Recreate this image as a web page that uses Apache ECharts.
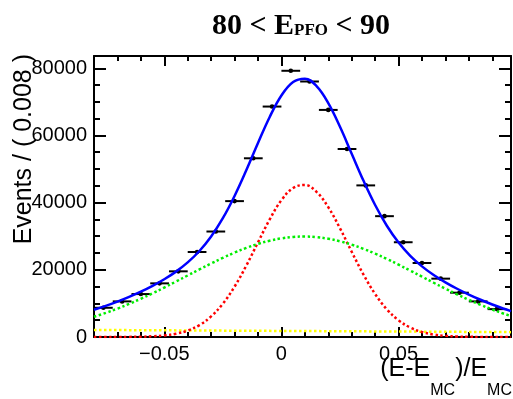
<!DOCTYPE html>
<html><head><meta charset="utf-8">
<script src="https://cdn.jsdelivr.net/npm/echarts@6/dist/echarts.min.js"></script>
<style>html,body{margin:0;padding:0;background:#fff}#c{width:513px;height:399px}</style>
</head><body><div id="c"></div>
<script>
// ---- data ----
const binWidth = 0.008;
const binCenters = [-0.076,-0.068,-0.060,-0.052,-0.044,-0.036,-0.028,-0.020,-0.012,-0.004,0.004,0.012,0.020,0.028,0.036,0.044,0.052,0.060,0.068,0.076,0.084,0.092];
const binCounts  = [8700,10600,12780,15970,19550,25310,31400,40450,53200,68600,79250,76060,67600,55970,45130,35970,28210,22030,17370,13190,10600,8300];

const curveX = [-0.080,-0.075,-0.070,-0.065,-0.060,-0.055,-0.050,-0.045,-0.040,-0.035,-0.030,-0.025,-0.020,-0.015,-0.010,-0.005,0.000,0.005,0.010,0.015,0.020,0.025,0.030,0.035,0.040,0.045,0.050,0.055,0.060,0.065,0.070,0.075,0.080,0.085,0.090,0.095,0.098];
const totalFit  = [8126,9256,10522,11934,13494,15229,17185,19460,22199,25610,29935,35373,41996,49622,57736,65502,71898,75928,76912,74680,69624,62568,54551,46558,39285,33122,28127,24175,21026,18450,16274,14359,12639,11083,9668,8395,7697];
const narrowFit = [1,4,12,34,87,207,466,980,1928,3551,6131,9907,14990,21241,28181,35008,40725,44358,45241,43207,38641,32353,25363,18623,12797,8240,4965,2804,1482,733,340,147,60,23,8,3,1];
const broadFit  = [6025,7170,8447,9855,11380,13013,14729,16508,18317,20123,21887,23567,25125,26518,27711,28668,29365,29780,29900,29720,29248,28498,27490,26255,24826,23238,21537,19764,17955,16146,14382,12678,11063,9562,8181,6931,6246];
const bkgX   = [-0.080, 0.098];
const bkgFit = [2100, 1450];

const xMin = -0.08, xMax = 0.098, xMinorStep = 0.01;
const xMajorTicks = [-0.05, 0, 0.05];
const yMin = 0, yMax = 83650, yMinorStep = 5000;
const yMajorTicks = [0, 20000, 40000, 60000, 80000];

const titleMain1 = '80 < E', titleSub = 'PFO', titleMain2 = ' < 90';
const yTitle = 'Events / ( 0.008 )';
// ---------------------------------------

const SANS = "'Liberation Sans', Arial, Helvetica, sans-serif";
const SERIF = "'Liberation Serif', 'Times New Roman', serif";
const pairs = (xs, ys) => xs.map((x, i) => [x, ys[i]]);

function xAxisDef(pos, major) {
  return {
    type: 'value', position: pos, min: xMin, max: xMax,
    interval: major ? undefined : xMinorStep,
    splitLine: { show: false },
    axisLine: { show: !major, onZero: false, lineStyle: { color: '#000', width: 2 } },
    axisTick: major
      ? { show: true, inside: true, length: 10, customValues: xMajorTicks, lineStyle: { color: '#000', width: 2 } }
      : { show: true, inside: true, length: 5, lineStyle: { color: '#000', width: 2 } },
    axisLabel: (major && pos === 'bottom')
      ? { show: true, customValues: xMajorTicks, margin: 7, color: '#000', fontSize: 20, fontFamily: SANS,
          formatter: v => v === 0 ? '0' : (v < 0 ? '\u2212' + Math.abs(v) : String(v)) }
      : { show: false }
  };
}
function yAxisDef(pos, major) {
  return {
    type: 'value', position: pos, min: yMin, max: yMax,
    interval: major ? undefined : yMinorStep,
    splitLine: { show: false },
    axisLine: { show: !major, onZero: false, lineStyle: { color: '#000', width: 2 } },
    axisTick: major
      ? { show: true, inside: true, length: 12, customValues: yMajorTicks, lineStyle: { color: '#000', width: 2 } }
      : { show: true, inside: true, length: 6, lineStyle: { color: '#000', width: 2 } },
    axisLabel: (major && pos === 'left')
      ? { show: true, customValues: yMajorTicks, margin: 7, color: '#000', fontSize: 20, fontFamily: SANS,
          formatter: v => String(v) }
      : { show: false }
  };
}

const chart = echarts.init(document.getElementById('c'), null, { renderer: 'canvas' });
const dotted = (color) => ({ color: color, width: 2.5, type: [2.5, 2.5] });

chart.setOption({
  animation: false,
  backgroundColor: '#fff',
  grid: { left: 94, right: 2, top: 56, bottom: 62, containLabel: false },
  xAxis: [xAxisDef('bottom', false), xAxisDef('bottom', true), xAxisDef('top', false), xAxisDef('top', true)],
  yAxis: [yAxisDef('left', false), yAxisDef('left', true), yAxisDef('right', false), yAxisDef('right', true)],
  graphic: [
    { type: 'text', x: 301, y: 11.4, z: 10,
      style: { text: '{a|' + titleMain1 + '}{b|' + titleSub + '}{a|' + titleMain2 + '}', align: 'center', verticalAlign: 'top',
        rich: { a: { fontFamily: SERIF, fontWeight: 'bold', fontSize: 30, fill: '#000', verticalAlign: 'top' },
                b: { fontFamily: SERIF, fontWeight: 'bold', fontSize: 17, fill: '#000', verticalAlign: 'top', padding: [10.5, 0, 0, 0] } } } },
    { type: 'text', x: 512, y: 356.5, z: 10,
      style: { text: '{a|(E-E}{b|MC}{a|)/E}{b|MC}', align: 'right', verticalAlign: 'top',
        rich: { a: { fontFamily: SANS, fontSize: 25, fill: '#000', verticalAlign: 'top' },
                b: { fontFamily: SANS, fontSize: 16, fill: '#000', verticalAlign: 'top', padding: [26, 0, 0, 0] } } } },
    { type: 'text', x: 24.5, y: 54, rotation: Math.PI / 2, z: 10,
      style: { text: yTitle, align: 'right', verticalAlign: 'middle', fontFamily: SANS, fontSize: 25, fill: '#000' } }
  ],
  series: [
    {
      type: 'custom', xAxisIndex: 0, yAxisIndex: 0, z: 3,
      data: pairs(binCenters, binCounts),
      renderItem: function (params, api) {
        const x = api.value(0), y = api.value(1);
        const p = api.coord([x, y]);
        const l = api.coord([x - binWidth / 2, y]);
        const r = api.coord([x + binWidth / 2, y]);
        return { type: 'group', children: [
          { type: 'line', shape: { x1: l[0], y1: l[1], x2: r[0], y2: r[1] }, style: { stroke: '#000', lineWidth: 2 } },
          { type: 'circle', shape: { cx: p[0], cy: p[1], r: 2.3 }, style: { fill: '#000' } }
        ] };
      }
    },
    { type: 'line', xAxisIndex: 0, yAxisIndex: 0, z: 4, data: pairs(bkgX, bkgFit), showSymbol: false, lineStyle: dotted('#ffff00') },
    { type: 'line', xAxisIndex: 0, yAxisIndex: 0, z: 4, data: pairs(curveX, narrowFit), smooth: 0.4, showSymbol: false, lineStyle: dotted('#ff0000') },
    { type: 'line', xAxisIndex: 0, yAxisIndex: 0, z: 4, data: pairs(curveX, broadFit), smooth: 0.4, showSymbol: false, lineStyle: dotted('#00ee00') },
    { type: 'line', xAxisIndex: 0, yAxisIndex: 0, z: 5, data: pairs(curveX, totalFit), smooth: 0.4, showSymbol: false, lineStyle: { color: '#0000ff', width: 2.5 } }
  ]
});
</script></body></html>
